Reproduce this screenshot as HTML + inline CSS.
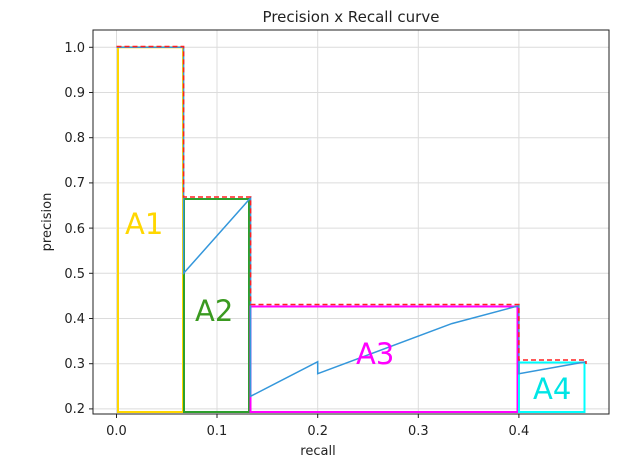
<!DOCTYPE html>
<html><head><style>body{margin:0;background:#fff}svg{display:block}</style></head><body>
<svg width="640" height="468" viewBox="0 0 640 468" xmlns="http://www.w3.org/2000/svg" font-family="DejaVu Sans, Liberation Sans, sans-serif">
<rect width="640" height="468" fill="#fff"/>
<g stroke="#dcdcdc" stroke-width="1">
<line x1="116.5" y1="30" x2="116.5" y2="414"/><line x1="217" y1="30" x2="217" y2="414"/><line x1="317.7" y1="30" x2="317.7" y2="414"/><line x1="418.3" y1="30" x2="418.3" y2="414"/><line x1="518.9" y1="30" x2="518.9" y2="414"/>
<line x1="93" y1="47.3" x2="609" y2="47.3"/><line x1="93" y1="92.5" x2="609" y2="92.5"/><line x1="93" y1="137.7" x2="609" y2="137.7"/><line x1="93" y1="182.9" x2="609" y2="182.9"/><line x1="93" y1="228.1" x2="609" y2="228.1"/><line x1="93" y1="273.3" x2="609" y2="273.3"/><line x1="93" y1="318.5" x2="609" y2="318.5"/><line x1="93" y1="363.7" x2="609" y2="363.7"/><line x1="93" y1="408.9" x2="609" y2="408.9"/>
</g>
<g fill="none" stroke-width="2">
<rect x="118" y="47.3" width="65" height="364.7" stroke="#ffd700"/>
<rect x="184" y="199" width="65" height="213" stroke="#2ca02c"/>
<rect x="250.5" y="306.5" width="267" height="105.5" stroke="#ff00ff"/>
<rect x="519" y="362.5" width="65.5" height="49.5" stroke="#00ffff"/>
</g>
<polyline fill="none" stroke="#3497db" stroke-width="1.5" points="116.5,47.3 183.6,47.3 183.6,273.3 250.6,197.9 250.6,396.3 317.7,361.7 317.7,373.7 451.8,323.6 518.9,305.7 518.9,373.7 586,361.8"/>
<polyline fill="none" stroke="#ff2020" stroke-width="1.5" stroke-dasharray="5,3" points="116.5,46.5 183.6,46.5 183.6,197 250.6,197 250.6,304.5 518.9,304.5 518.9,360 586,360 586,364"/>
<rect x="93" y="30" width="516" height="384" fill="none" stroke="#222" stroke-width="1"/>
<g fill="#222" font-size="13">
<g stroke="#222"><line x1="116.5" y1="414" x2="116.5" y2="418"/><line x1="217" y1="414" x2="217" y2="418"/><line x1="317.7" y1="414" x2="317.7" y2="418"/><line x1="418.3" y1="414" x2="418.3" y2="418"/><line x1="518.9" y1="414" x2="518.9" y2="418"/>
<line x1="89" y1="47.3" x2="93" y2="47.3"/><line x1="89" y1="92.5" x2="93" y2="92.5"/><line x1="89" y1="137.7" x2="93" y2="137.7"/><line x1="89" y1="182.9" x2="93" y2="182.9"/><line x1="89" y1="228.1" x2="93" y2="228.1"/><line x1="89" y1="273.3" x2="93" y2="273.3"/><line x1="89" y1="318.5" x2="93" y2="318.5"/><line x1="89" y1="363.7" x2="93" y2="363.7"/><line x1="89" y1="408.9" x2="93" y2="408.9"/></g>
<g text-anchor="middle"><text x="116.5" y="435">0.0</text><text x="217" y="435">0.1</text><text x="317.7" y="435">0.2</text><text x="418.3" y="435">0.3</text><text x="518.9" y="435">0.4</text>
<text x="318" y="455">recall</text><text x="351" y="22" font-size="15">Precision x Recall curve</text></g>
<g text-anchor="end"><text x="85" y="52">1.0</text><text x="85" y="97">0.9</text><text x="85" y="142">0.8</text><text x="85" y="187">0.7</text><text x="85" y="233">0.6</text><text x="85" y="278">0.5</text><text x="85" y="323">0.4</text><text x="85" y="368">0.3</text><text x="85" y="413">0.2</text></g>
<text transform="translate(51,222) rotate(-90)" text-anchor="middle">precision</text>
</g>
<g font-size="29">
<text x="125" y="234" fill="#ffd700">A1</text>
<text x="195" y="321" fill="#3a9a20">A2</text>
<text x="356" y="364" fill="#ff00ff">A3</text>
<text x="533" y="399" fill="#00e5e5">A4</text>
</g>
</svg>
</body></html>
